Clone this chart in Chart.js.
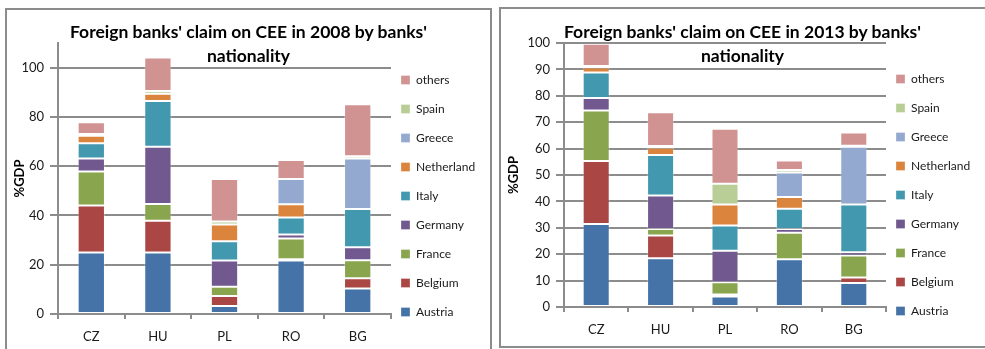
<!DOCTYPE html>
<html>
<head>
<meta charset="utf-8">
<script src="https://cdn.jsdelivr.net/npm/chart.js@4/dist/chart.umd.min.js"></script>
<style>
  body { margin: 0; background: #fff; width: 985px; height: 349px; position: relative; overflow: hidden; font-family: Lato, sans-serif; }
  .panel { position: absolute; border: 2px solid #8c8c8c; box-sizing: border-box; }
  .title { position: absolute; text-align: center; font-weight: bold; font-size: 17.5px; line-height: 24px; color: #000; }
  canvas { position: absolute; }
</style>
</head>
<body>
<div class="panel" style="left:5px; top:8px; width:487px; height:360px;"></div>
<div class="panel" style="left:499px; top:7px; width:500px; height:341px;"></div>

<canvas id="chart2008" style="left:7px; top:10px; width:482px; height:339px;" width="482" height="339"></canvas>
<canvas id="chart2013" style="left:501px; top:9px; width:484px; height:338px;" width="484" height="338"></canvas>

<div class="title" style="left:5px; top:20px; width:487px;">Foreign banks' claim on CEE in 2008 by banks'<br>nationality</div>
<div class="title" style="left:499px; top:20px; width:487px;">Foreign banks' claim on CEE in 2013 by banks'<br>nationality</div>

<script>
const countries = ['CZ', 'HU', 'PL', 'RO', 'BG'];
const lenders = ['Austria', 'Belgium', 'France', 'Germany', 'Italy', 'Netherland', 'Greece', 'Spain', 'others'];
const colors = ['#4572A7', '#AA4643', '#89A54E', '#71588F', '#4198AF', '#DB843D', '#93A9CF', '#B9CD96', '#D19392'];

// claims in %GDP, one array per lender, in country order
const austria08    = [25.0, 25.0, 3.2, 21.7, 10.4];
const belgium08    = [19.0, 12.8, 4.1, 0.5, 4.1];
const france08     = [13.8, 6.9, 3.8, 8.4, 7.3];
const germany08    = [5.3, 23.2, 10.6, 1.7, 5.3];
const italy08      = [6.2, 18.6, 7.8, 6.9, 15.5];
const netherland08 = [3.1, 2.9, 6.8, 5.3, 0];
const greece08     = [0, 0, 0, 10.3, 20.5];
const spain08      = [0.7, 1.1, 1.2, 0, 0.9];
const others08     = [4.7, 13.6, 17.3, 7.7, 21.1];

const austria13    = [31.4, 18.5, 4.0, 18.1, 9.1];
const belgium13    = [23.9, 8.6, 0.7, 0, 2.1];
const france13     = [19.1, 2.4, 4.7, 10.0, 8.3];
const germany13    = [4.8, 12.7, 11.9, 1.4, 1.2];
const italy13      = [9.6, 15.4, 9.6, 7.7, 18.1];
const netherland13 = [1.9, 2.7, 7.9, 4.5, 0];
const greece13     = [0, 0, 0, 9.2, 21.9];
const spain13      = [0.6, 0.7, 7.9, 1.0, 0.4];
const others13     = [8.4, 12.8, 20.8, 3.6, 5.0];

const ticks08 = { max: 110, step: 20 };
const ticks13 = { max: 100, step: 10 };

Chart.defaults.font.family = 'Lato, sans-serif';
Chart.defaults.color = '#1a1a1a';

const gridColor = '#8c8c8c';

// put the legend swatches 10px right of the plot
const legendShift = {
  id: 'legendShift',
  afterLayout(chart) {
    chart.legend.left = chart.chartArea.right - 7;
  }
};

function makeChart(id, series, axis, opts) {
  const datasets = series.map((values, i) => ({
    label: lenders[i],
    data: values,
    backgroundColor: colors[i],
    borderColor: 'rgba(255,255,255,0.3)',
    borderWidth: 1,
    borderSkipped: false,
    categoryPercentage: 1,
    barPercentage: opts.barPct
  }));

  new Chart(document.getElementById(id), {
    type: 'bar',
    data: { labels: countries, datasets },
    plugins: [legendShift],
    options: {
      responsive: false,
      animation: false,
      layout: { padding: { top: opts.top, left: 0, right: opts.right, bottom: 0 } },
      plugins: {
        tooltip: { enabled: false },
        legend: {
          position: 'right',
          reverse: true,
          maxWidth: 95,
          labels: {
            boxWidth: 9,
            boxHeight: 9,
            padding: 17,
            color: '#1a1a1a',
            font: { size: 12 }
          }
        }
      },
      scales: {
        x: {
          stacked: true,
          afterFit: s => { s.height = opts.xHeight; },
          grid: { drawOnChartArea: false, color: gridColor, lineWidth: 2, tickLength: 5 },
          border: { color: gridColor, width: 2 },
          ticks: { padding: 10, font: { size: 13 }, color: '#1a1a1a' }
        },
        y: {
          stacked: true,
          min: 0,
          max: axis.max,
          afterFit: s => { s.width = opts.yWidth; },
          title: {
            display: true,
            text: '%GDP',
            font: { size: 13, weight: 'bold' },
            color: '#000',
            padding: { top: 5, bottom: 0 }
          },
          grid: {
            color: ctx => (ctx.tick && ctx.tick.value % axis.step !== 0) ? 'rgba(0,0,0,0)' : gridColor,
            lineWidth: 2,
            tickLength: 8
          },
          border: { color: gridColor, width: 2 },
          ticks: {
            stepSize: axis.step,
            padding: 6,
            font: { size: 13 },
            color: '#1a1a1a',
            callback: v => (v % axis.step === 0 ? v : '')
          }
        }
      }
    }
  });
}

makeChart('chart2008',
  [austria08, belgium08, france08, germany08, italy08, netherland08, greece08, spain08, others08],
  ticks08,
  { top: 33, right: 3, xHeight: 35, yWidth: 51, barPct: 0.41 });

makeChart('chart2013',
  [austria13, belgium13, france13, germany13, italy13, netherland13, greece13, spain13, others13],
  ticks13,
  { top: 34, right: 4, xHeight: 40, yWidth: 63, barPct: 0.42 });
</script>
</body>
</html>
